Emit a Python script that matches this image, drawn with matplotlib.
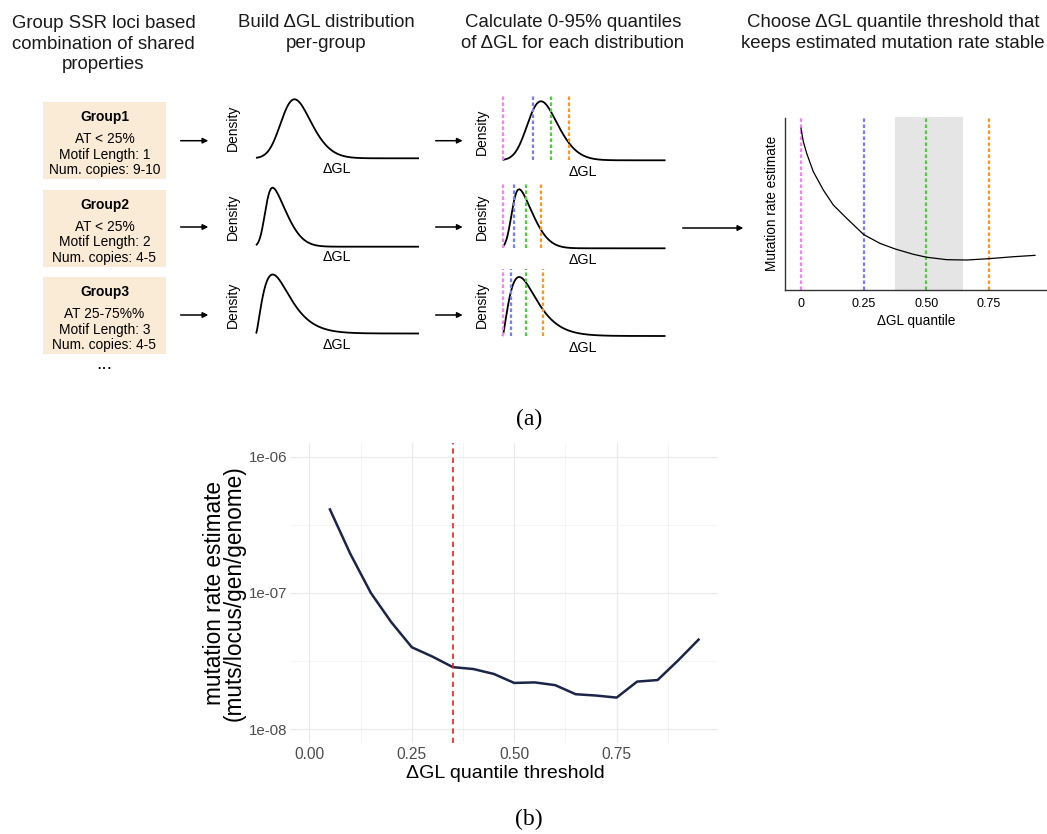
import numpy as np
import matplotlib
matplotlib.use("Agg")
import matplotlib.pyplot as plt
from matplotlib.patches import Rectangle
from matplotlib.ticker import FixedLocator, NullFormatter
from math import erf

# ---------------- data ----------------
# panel (b): mutation rate estimate vs dGL quantile threshold
thresholds = [0.05, 0.10, 0.15, 0.20, 0.25, 0.30, 0.35, 0.40, 0.45, 0.50,
              0.55, 0.60, 0.65, 0.70, 0.75, 0.80, 0.85, 0.90, 0.95]
mut_rate = [4.1e-7, 1.93e-7, 1.0e-7, 6.1e-8, 4.0e-8, 3.42e-8, 2.86e-8, 2.77e-8,
            2.55e-8, 2.19e-8, 2.21e-8, 2.11e-8, 1.81e-8, 1.77e-8, 1.71e-8,
            2.24e-8, 2.30e-8, 3.2e-8, 4.55e-8]
chosen_threshold = 0.35
b_xticks = [0.0, 0.25, 0.50, 0.75]
b_xticklabels = ["0.00", "0.25", "0.50", "0.75"]
b_yticks = [1e-8, 1e-7, 1e-6]
b_yticklabels = ["1e-08", "1e-07", "1e-06"]

# panel (a): groups
group_names = ["Group1", "Group2", "Group3"]
group_props = [["AT < 25%", "Motif Length: 1", "Num. copies: 9-10"],
               ["AT < 25%", "Motif Length: 2", "Num. copies: 4-5"],
               ["AT 25-75%%", "Motif Length: 3", "Num. copies: 4-5"]]
# schematic dGL distributions (arbitrary dGL units)
dens_family = ["skewnorm", "skewnorm", "gamma"]
dens_loc = [26.3, 9.0, 0.0]      # skew-normal location / gamma origin
dens_scale = [23.0, 18.3, 11.13]  # skew-normal omega / gamma theta
dens_shape = [2.0, 4.0, 2.5]      # skew-normal alpha / gamma k
# quantile positions (0, 25, 50, 75 %) on each schematic distribution
quant_pos = [[0.0, 30.2, 48.2, 66.5],
             [0.0, 11.2, 23.5, 38.2],
             [0.0, 8.2, 23.5, 40.2]]
quant_colors = ["#f582f5", "#787df5", "#50cd3c", "#ff961e"]
# schematic mutation-rate curve vs dGL quantile
schem_q = [0.0, 0.0093, 0.0226, 0.049, 0.089, 0.129, 0.182, 0.25, 0.315,
           0.375, 0.448, 0.501, 0.581, 0.661, 0.751, 0.847, 0.933]
schem_rate = [0.933, 0.856, 0.789, 0.683, 0.577, 0.490, 0.414, 0.320, 0.269,
              0.237, 0.206, 0.189, 0.175, 0.173, 0.181, 0.192, 0.200]
schem_lines = [0.0, 0.25, 0.50, 0.75]
schem_band = [0.375, 0.645]
schem_xticklabels = ["0", "0.25", "0.50", "0.75"]

titles = ["Group SSR loci based\ncombination of shared\nproperties",
          "Build \u0394GL distribution\nper-group",
          "Calculate 0-95% quantiles\nof \u0394GL for each distribution",
          "Choose \u0394GL quantile threshold that\nkeeps estimated mutation rate stable"]

# ---------------- figure ----------------
W, H = 1047, 834
fig = plt.figure(figsize=(W / 100, H / 100), dpi=100)
SANS = ["Liberation Sans", "DejaVu Sans"]
SERIF = ["Liberation Serif", "DejaVu Serif"]


def px_axes(x0, y0, x1, y1):
    a = fig.add_axes([x0 / W, 1 - y1 / H, (x1 - x0) / W, (y1 - y0) / H])
    a.set_facecolor("none")
    return a


ov = fig.add_axes([0, 0, 1, 1])
ov.set_xlim(0, W)
ov.set_ylim(H, 0)
ov.axis("off")

# titles
title_x = [103.5, 326, 572.7, 893]
title_y = [44.0, 33.0, 33.0, 33.0]
for t, x, y in zip(titles, title_x, title_y):
    ov.text(x, y, t, ha="center", va="center", fontsize=13.4, family=SANS,
            linespacing=1.24, color="#1a1a1a")

# group boxes
box_top = [102.3, 190, 277.3]
for i, (name, props) in enumerate(zip(group_names, group_props)):
    y0 = box_top[i]
    ov.add_patch(Rectangle((43.3, y0), 122.7, 76.7, facecolor="#faebd7",
                           edgecolor="none"))
    ov.text(104.5, y0 + 14.5, name, ha="center", va="center", fontsize=9.9,
            family=SANS, weight="bold")
    for j, p in enumerate(props):
        ov.text(104.5, y0 + 36.5 + 15.8 * j, p, ha="center", va="center",
                fontsize=9.9, family=SANS)
ov.text(104.5, 368.5, "...", ha="center", va="baseline", fontsize=14,
        family=SANS)

# arrows
arrow_y = [140.7, 227, 315]
for y in arrow_y:
    for xa, xb in [(180.7, 208.3), (435.7, 462.7)]:
        ov.annotate("", xy=(xb, y), xytext=(xa, y),
                    arrowprops=dict(arrowstyle="-|>", color="k", lw=1.1,
                                    mutation_scale=8, shrinkA=0, shrinkB=0))
ov.annotate("", xy=(743.3, 228), xytext=(682.7, 228),
            arrowprops=dict(arrowstyle="-|>", color="k", lw=1.1,
                            mutation_scale=8, shrinkA=0, shrinkB=0))

verf = np.vectorize(erf)


def density(x, fam, loc, scale, shape):
    if fam == "skewnorm":
        z = (x - loc) / scale
        return np.exp(-z ** 2 / 2) * 0.5 * (1 + verf(shape * z / np.sqrt(2)))
    u = np.clip(x - loc, 0, None) / scale
    return u ** (shape - 1) * np.exp(-u)


xg = np.linspace(0, 163, 600)
base_p2 = [158.3, 246.7, 333.5]
base_p3 = [160.3, 248.3, 336.0]
dens_lab_p2 = [128, 217, 305]
dens_lab_p3 = [131.7, 216.7, 305]
dgl_lab_p2 = [169.3, 257.3, 345]
dgl_lab_p3 = [171.7, 260, 347.7]
PEAK = 59.0
for i in range(3):
    d = density(xg, dens_family[i], dens_loc[i], dens_scale[i], dens_shape[i])
    d = d / d.max()
    for panel, (x0, base) in enumerate([(256.0, base_p2[i]), (502.5, base_p3[i])]):
        a = px_axes(x0, base - PEAK * 1.13, x0 + 163, base)
        a.set_xlim(0, 163)
        a.set_ylim(0, 1.13)
        a.axis("off")
        a.plot(xg, d, color="k", lw=1.3, clip_on=False, solid_capstyle="butt")
        if panel == 1:
            for q, c in zip(quant_pos[i], quant_colors):
                a.axvline(q, ymin=0, ymax=1, color=c, lw=1.6,
                          ls=(0, (1.6, 1.1)), clip_on=False)
    ov.text(233, dens_lab_p2[i], "Density", rotation=90, ha="center",
            va="center", fontsize=10, family=SANS)
    ov.text(481.7, dens_lab_p3[i], "Density", rotation=90, ha="center",
            va="center", fontsize=10, family=SANS)
    ov.text(336.7, dgl_lab_p2[i], "\u0394GL", ha="center", va="center",
            fontsize=10.3, family=SANS)
    ov.text(583.3, dgl_lab_p3[i], "\u0394GL", ha="center", va="center",
            fontsize=10.3, family=SANS)

# schematic panel 4
a4 = px_axes(785, 116.7, 1047, 290)
a4.set_xlim(-0.0638, 0.981)
a4.set_ylim(0, 1)
a4.axvspan(schem_band[0], schem_band[1], color="#e5e5e5", lw=0)
for q, c in zip(schem_lines, quant_colors):
    a4.axvline(q, color=c, lw=1.6, ls=(0, (1.6, 1.1)))
a4.plot(schem_q, schem_rate, color="k", lw=0.9)
for s in ["top", "right"]:
    a4.spines[s].set_visible(False)
for s in ["left", "bottom"]:
    a4.spines[s].set_color("#333333")
    a4.spines[s].set_linewidth(1.0)
a4.spines["left"].set_bounds(0, 0.99)
a4.set_yticks([])
a4.set_xticks(schem_lines)
a4.set_xticklabels(schem_xticklabels, fontsize=9, family=SANS)
a4.tick_params(axis="x", length=0, pad=6)
a4.set_xlabel("\u0394GL quantile", fontsize=9.8, family=SANS, labelpad=3)
a4.set_ylabel("Mutation rate estimate", fontsize=9.8, family=SANS, labelpad=4)

# panel labels
ov.text(529, 419, "(a)", ha="center", va="center", fontsize=17, family=SERIF)
ov.text(529, 819, "(b)", ha="center", va="center", fontsize=17, family=SERIF)

# ---------------- panel (b) ----------------
axb = px_axes(290, 443, 718, 743)
axb.set_facecolor("white")
axb.set_yscale("log")
axb.set_xlim(-0.0475, 0.9975)
axb.set_ylim(10 ** -8.1, 10 ** -5.9)
axb.set_yticks(b_yticks)
axb.set_yticklabels(b_yticklabels, family=SANS, fontsize=10.8, color="#4d4d4d")
axb.yaxis.set_minor_locator(FixedLocator([10 ** -7.5, 10 ** -6.5]))
axb.yaxis.set_minor_formatter(NullFormatter())
axb.set_xticks(b_xticks)
axb.set_xticklabels(b_xticklabels, family=SANS, fontsize=11.2, color="#4d4d4d")
axb.xaxis.set_minor_locator(FixedLocator([0.125, 0.375, 0.625, 0.875]))
axb.grid(which="major", color="#ebebeb", lw=0.9)
axb.grid(which="minor", color="#f3f3f3", lw=0.6)
axb.set_axisbelow(True)
axb.tick_params(which="both", length=0)
axb.tick_params(axis="x", pad=3)
axb.tick_params(axis="y", pad=2)
for s in axb.spines.values():
    s.set_visible(False)
axb.plot(thresholds, mut_rate, color="#1c2447", lw=1.8)
axb.axvline(chosen_threshold, color="#f0201c", lw=1.2, ls=(0, (3.2, 2.4)))
axb.set_xlabel("\u0394GL quantile threshold", family=SANS, fontsize=14)
axb.xaxis.set_label_coords(0.5023, -0.075)
axb.set_ylabel("mutation rate estimate\n(muts/locus/gen/genome)", family=SANS,
               fontsize=16.3, linespacing=0.82)
axb.yaxis.set_label_coords(-0.104, 0.5)

fig.savefig("out.png", dpi=100)
